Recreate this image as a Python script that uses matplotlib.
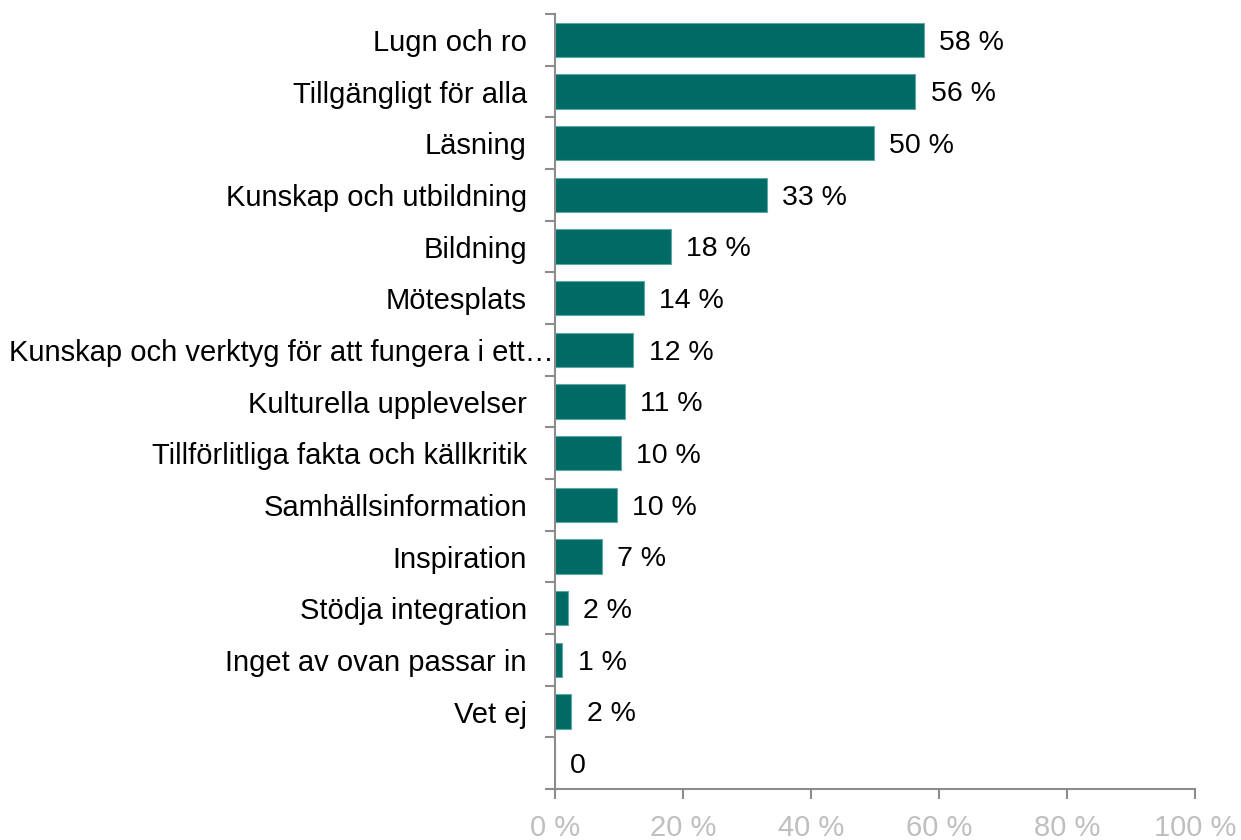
import numpy as np
import matplotlib.pyplot as plt
import matplotlib.transforms as mtransforms

plt.rcParams['font.family'] = ['Liberation Sans', 'DejaVu Sans']

categories = ['Lugn och ro', 'Tillgängligt för alla', 'Läsning', 'Kunskap och utbildning',
              'Bildning', 'Mötesplats', 'Kunskap och verktyg för att fungera i ett…',
              'Kulturella upplevelser', 'Tillförlitliga fakta och källkritik',
              'Samhällsinformation', 'Inspiration', 'Stödja integration',
              'Inget av ovan passar in', 'Vet ej', '']
values = [57.7, 56.3, 49.8, 33.1, 18.1, 13.9, 12.3, 11.0, 10.3, 9.7, 7.4, 2.0, 1.2, 2.6, 0]
value_labels = ['58 %', '56 %', '50 %', '33 %', '18 %', '14 %', '12 %', '11 %', '10 %',
                '10 %', '7 %', '2 %', '1 %', '2 %', '0']
xticks = [0, 20, 40, 60, 80, 100]

teal = '#006A65'
grey = '#8C8C8C'

fig = plt.figure(figsize=(12.41, 8.4), dpi=100)
ax = fig.add_axes([0.447, 0.0607, 0.516, 0.9226])

y = np.arange(len(categories))
ax.barh(y, values, height=0.66, color=teal, edgecolor='#5FA8A3', linewidth=0.8, zorder=2)

for yi, v, lab in zip(y, values, value_labels):
    ax.annotate(lab, (v, yi), xytext=(11, -2), textcoords='offset points',
                va='center', ha='left', fontsize=20.5, color='black')

ax.set_xlim(0, 100)
ax.set_ylim(len(categories) - 0.5, -0.5)
ax.set_xticks(xticks)
ax.set_xticklabels([f'{t} %' for t in xticks], fontsize=21, color='#BFBFBF')

ax.set_yticks(y)
ax.set_yticklabels(categories, fontsize=21)
ax.set_yticks(np.arange(-0.5, len(categories), 1), minor=True)
ax.tick_params(axis='y', which='major', length=0, pad=20)
ax.tick_params(axis='y', which='minor', length=7, color=grey, width=1.5)
ax.tick_params(axis='x', length=7, color=grey, width=1.5, pad=11)

for s in ['top', 'right']:
    ax.spines[s].set_visible(False)
for s in ['left', 'bottom']:
    ax.spines[s].set_color(grey)
    ax.spines[s].set_linewidth(1.5)

# the long label sits further right in the original
long_lab = ax.get_yticklabels()[6]
long_lab.set_transform(long_lab.get_transform() +
                       mtransforms.ScaledTranslation(27 / 100, 0, fig.dpi_scale_trans))

fig.savefig('out.png', dpi=100, facecolor='white')
